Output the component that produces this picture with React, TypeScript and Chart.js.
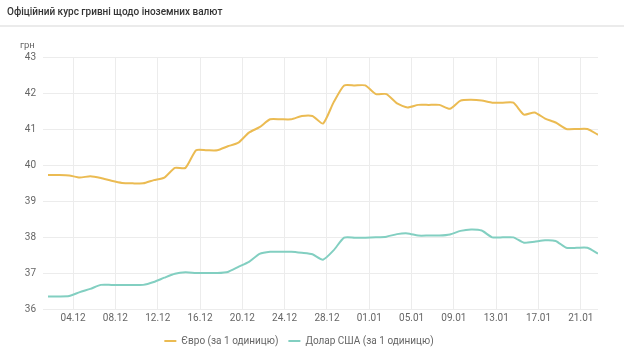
import { useEffect, useRef } from 'react';
import { Chart, registerables } from 'chart.js';

Chart.register(...registerables);

const TITLE = 'Офіційний курс гривні щодо іноземних валют';
const UNIT = 'грн';

const DATES = [
  '01.12', '02.12', '03.12', '04.12', '05.12', '06.12', '07.12', '08.12', '09.12', '10.12',
  '11.12', '12.12', '13.12', '14.12', '15.12', '16.12', '17.12', '18.12', '19.12', '20.12',
  '21.12', '22.12', '23.12', '24.12', '25.12', '26.12', '27.12', '28.12', '29.12', '30.12',
  '31.12', '01.01', '02.01', '03.01', '04.01', '05.01', '06.01', '07.01', '08.01', '09.01',
  '10.01', '11.01', '12.01', '13.01', '14.01', '15.01', '16.01', '17.01', '18.01', '19.01',
  '20.01', '21.01', '22.01',
];

const TICK_LABELS = ['04.12', '08.12', '12.12', '16.12', '20.12', '24.12', '28.12', '01.01', '05.01', '09.01', '13.01', '17.01', '21.01'];

const EUR = [
  39.72, 39.72, 39.71, 39.65, 39.69, 39.64, 39.56, 39.50, 39.49, 39.49,
  39.58, 39.65, 39.92, 39.92, 40.41, 40.41, 40.41, 40.52, 40.62, 40.90,
  41.05, 41.27, 41.27, 41.27, 41.36, 41.36, 41.15, 41.74, 42.21, 42.21,
  42.21, 41.97, 41.97, 41.71, 41.60, 41.67, 41.67, 41.67, 41.56, 41.79,
  41.81, 41.79, 41.73, 41.73, 41.73, 41.40, 41.46, 41.29, 41.18, 41.00,
  41.00, 41.00, 40.84,
];

const USD = [
  36.35, 36.35, 36.36, 36.47, 36.56, 36.67, 36.67, 36.67, 36.67, 36.67,
  36.75, 36.87, 36.98, 37.02, 37.00, 37.00, 37.00, 37.03, 37.17, 37.31,
  37.53, 37.59, 37.59, 37.59, 37.56, 37.52, 37.37, 37.63, 37.98, 37.98,
  37.98, 37.99, 38.01, 38.08, 38.10, 38.04, 38.04, 38.04, 38.07, 38.17,
  38.21, 38.18, 37.99, 37.99, 37.99, 37.84, 37.87, 37.91, 37.89, 37.70,
  37.70, 37.70, 37.54,
];

const SERIES_NAMES = ['Євро (за 1 одиницю)', 'Долар США (за 1 одиницю)'];

// the official rate is fixed in the afternoon of each day
const RATE_HOUR = 15;
const Y_MIN = 36;
const Y_MAX = 43;

const EUR_COLOR = '#ebbb52';
const USD_COLOR = '#82cfc1';
const GRID_COLOR = '#ececec';
const TEXT_COLOR = '#666666';
const FONT = { family: 'Roboto', size: 10 };

export default function App() {
  const ref = useRef<HTMLCanvasElement | null>(null);

  useEffect(() => {
    if (!ref.current) return;
    const toPoints = (vals: number[]) => vals.map((v, i) => ({ x: i + RATE_HOUR / 24, y: v }));
    const chart = new Chart(ref.current, {
      type: 'line',
      data: {
        datasets: [
          {
            label: SERIES_NAMES[0],
            data: toPoints(EUR),
            borderColor: EUR_COLOR,
            backgroundColor: EUR_COLOR,
            borderWidth: 2,
            pointRadius: 0,
            tension: 0.2,
          },
          {
            label: SERIES_NAMES[1],
            data: toPoints(USD),
            borderColor: USD_COLOR,
            backgroundColor: USD_COLOR,
            borderWidth: 2,
            pointRadius: 0,
            tension: 0.2,
          },
        ],
      },
      options: {
        responsive: false,
        animation: false,
        layout: { padding: { top: 57, left: 0, right: 26, bottom: 2 } },
        plugins: {
          legend: {
            position: 'bottom',
            labels: {
              usePointStyle: true,
              pointStyle: 'line',
              pointStyleWidth: 12,
              boxHeight: 8,
              font: FONT,
              color: TEXT_COLOR,
              padding: 10,
            },
          },
          tooltip: { enabled: false },
        },
        scales: {
          x: {
            type: 'linear',
            min: RATE_HOUR / 24,
            max: DATES.length - 1 + RATE_HOUR / 24,
            afterBuildTicks: (axis: any) => {
              axis.ticks = TICK_LABELS.map((l) => ({ value: DATES.indexOf(l) }));
            },
            afterFit: (s: any) => {
              s.height = 17;
            },
            ticks: {
              autoSkip: false,
              maxRotation: 0,
              padding: 3,
              font: FONT,
              color: TEXT_COLOR,
              callback: (v: any) => DATES[Math.round(Number(v))],
            },
            grid: { color: GRID_COLOR, drawTicks: false },
            border: { display: false },
          },
          y: {
            min: Y_MIN,
            max: Y_MAX,
            afterFit: (s: any) => {
              s.width = 48;
            },
            ticks: { stepSize: 1, padding: 7, font: FONT, color: TEXT_COLOR },
            grid: { color: GRID_COLOR, tickLength: 5 },
            border: { display: false },
          },
        },
      },
    });
    return () => chart.destroy();
  }, []);

  return (
    <div style={{ position: 'absolute', left: 0, top: 0, width: 624, height: 358, background: '#fff', overflow: 'hidden' }}>
      <canvas ref={ref} width={624} height={358} style={{ position: 'absolute', left: 0, top: 0, display: 'block' }} />
      <div
        style={{
          position: 'absolute',
          left: 7,
          top: 5,
          fontFamily: 'Roboto',
          fontSize: 10,
          fontWeight: 500,
          color: '#333',
          whiteSpace: 'nowrap',
          lineHeight: '14px',
        }}
      >
        {TITLE}
      </div>
      <div style={{ position: 'absolute', left: 0, top: 25, width: 624, height: 2, background: '#ebebeb' }} />
      <div
        style={{
          position: 'absolute',
          left: 20,
          top: 39,
          fontFamily: 'Roboto',
          fontSize: 9.5,
          color: TEXT_COLOR,
          lineHeight: '12px',
        }}
      >
        {UNIT}
      </div>
    </div>
  );
}
